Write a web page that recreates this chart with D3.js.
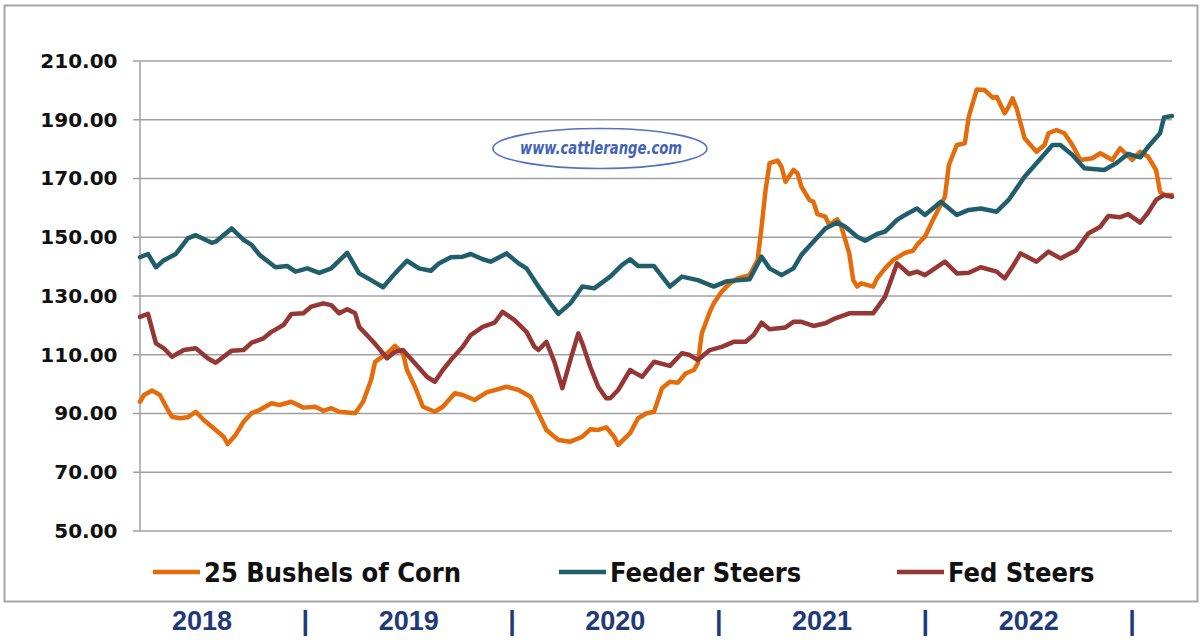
<!DOCTYPE html>
<html>
<head>
<meta charset="utf-8">
<script src="https://cdn.jsdelivr.net/npm/d3@7"></script>
<style>
    body { margin: 0; background: #fff; }
    svg { display: block; }
</style>
</head>
<body>
<div id="main"></div>
<script>
// weekly readings, week 0 = first week of 2018
const corn = [
    [0, 94.0], [1, 96.3], [3, 97.8], [5, 96.3], [7, 91.2], [8, 88.9], [10, 88.4], [12, 88.7], [14, 90.6], [16, 87.8],
    [19, 84.4], [21, 82.1], [22, 79.6], [24, 82.7], [26, 87.2], [28, 90.1], [30, 91.2], [33, 93.5], [35, 92.9], [38, 94.0],
    [41, 92.0], [44, 92.3], [46, 90.9], [48, 91.8], [50, 90.6], [54, 90.1], [56, 94.0], [58, 101.4], [59, 107.6], [62, 110.5],
    [64, 113.0], [66, 110.5], [67, 104.8], [69, 99.1], [71, 92.3], [74, 90.6], [76, 92.3], [79, 96.9], [81, 96.3], [84, 94.6],
    [87, 97.2], [92, 99.1], [95, 98.0], [98, 95.7], [100, 90.1], [102, 84.4], [105, 81.0], [108, 80.4], [111, 82.1], [113, 84.6],
    [115, 84.4], [117, 85.3], [119, 82.1], [120, 79.3], [123, 83.3], [125, 88.4], [127, 90.0], [129, 90.6], [131, 98.6], [133, 100.8],
    [135, 100.5], [137, 103.7], [139, 104.8], [140, 107.1], [141, 117.3], [143, 124.6], [144, 127.5], [146, 131.5], [148, 134.3], [150, 136.0],
    [153, 137.1], [155, 142.2], [156, 153.6], [157, 166.1], [158, 175.2], [160, 176.1], [161, 174.0], [162, 168.9], [164, 172.9], [165, 171.8],
    [166, 167.2], [168, 162.7], [169, 162.1], [170, 157.9], [172, 157.0], [173, 154.2], [175, 156.1], [176, 153.6], [178, 144.5], [179, 135.4],
    [180, 133.2], [181, 134.3], [184, 133.2], [185, 136.0], [187, 139.4], [189, 142.2], [192, 144.7], [194, 145.4], [195, 147.4], [197, 150.2],
    [199, 155.9], [202, 163.8], [203, 174.6], [205, 181.4], [207, 182.0], [208, 191.1], [210, 200.3], [212, 200.1], [214, 197.5], [215, 197.8],
    [217, 192.2], [218, 194.4], [219, 197.3], [220, 193.9], [222, 183.7], [225, 179.1], [227, 181.4], [228, 185.4], [230, 186.5], [232, 185.4],
    [234, 181.4], [236, 176.3], [239, 176.9], [241, 178.6], [244, 176.3], [246, 180.3], [249, 176.3], [251, 179.1], [253, 177.4], [255, 172.9],
    [256, 165.5], [257, 164.4], [259, 164.4]
];

const feeder = [
    [0, 143.2], [2, 144.3], [4, 139.8], [6, 142.2], [9, 144.3], [12, 149.6], [14, 150.7], [18, 148.1], [19, 148.5], [23, 153.0],
    [26, 149.1], [28, 147.4], [30, 144.0], [34, 139.8], [37, 140.2], [39, 138.3], [42, 139.4], [45, 137.9], [48, 139.4], [52, 144.7],
    [55, 137.7], [58, 135.4], [61, 133.0], [64, 137.7], [67, 142.0], [70, 139.4], [73, 138.6], [75, 141.1], [78, 143.2], [81, 143.4],
    [83, 144.3], [86, 142.5], [88, 141.7], [92, 144.5], [95, 141.1], [97, 139.4], [100, 133.2], [103, 127.5], [105, 123.9], [108, 127.5],
    [111, 133.2], [114, 132.6], [118, 136.6], [121, 140.6], [123, 142.5], [125, 140.2], [129, 140.2], [133, 133.2], [136, 136.6], [140, 135.4],
    [144, 133.2], [147, 134.9], [150, 135.4], [153, 135.7], [156, 143.4], [158, 139.4], [161, 137.1], [164, 139.4], [166, 144.0], [169, 148.5],
    [172, 153.0], [175, 155.0], [177, 153.6], [180, 150.2], [182, 148.8], [185, 151.1], [187, 151.9], [190, 155.9], [192, 157.6], [195, 159.8],
    [197, 157.6], [201, 162.1], [205, 157.6], [208, 159.3], [211, 159.8], [215, 158.7], [218, 162.7], [222, 170.6], [225, 175.2], [229, 181.4],
    [231, 181.4], [234, 178.0], [237, 173.5], [242, 172.9], [245, 175.2], [248, 178.4], [251, 177.2], [253, 180.8], [256, 185.4], [257, 190.8],
    [259, 191.3]
];

const fed = [
    [0, 122.9], [2, 123.9], [4, 113.9], [6, 112.2], [8, 109.3], [11, 111.6], [14, 112.2], [17, 108.8], [19, 107.3], [23, 111.4],
    [26, 111.6], [28, 114.1], [31, 115.6], [33, 117.8], [36, 120.1], [38, 123.9], [41, 124.1], [43, 126.4], [46, 127.5], [48, 126.9],
    [50, 124.1], [52, 125.5], [54, 124.1], [55, 119.5], [58, 115.2], [59, 113.7], [62, 108.8], [64, 111.0], [66, 111.6], [69, 107.1],
    [72, 102.5], [74, 100.8], [76, 104.8], [78, 108.2], [81, 112.7], [83, 116.7], [86, 119.5], [89, 120.9], [91, 124.6], [94, 121.8],
    [97, 117.8], [99, 112.7], [100, 111.6], [102, 114.4], [104, 107.6], [106, 98.6], [108, 108.2], [110, 117.3], [111, 113.9], [113, 105.9],
    [115, 99.1], [117, 95.2], [118, 95.2], [120, 98.0], [123, 104.8], [124, 104.0], [126, 102.5], [129, 107.6], [133, 106.2], [136, 110.5],
    [138, 109.9], [140, 108.2], [143, 111.6], [146, 112.7], [149, 114.4], [152, 114.4], [154, 116.7], [156, 120.9], [158, 118.7], [162, 119.3],
    [164, 121.2], [166, 121.2], [169, 119.8], [172, 120.7], [174, 122.1], [178, 124.1], [181, 124.1], [184, 124.1], [187, 129.8], [190, 141.1],
    [193, 137.5], [195, 138.3], [197, 137.1], [202, 141.7], [205, 137.7], [208, 137.9], [211, 139.8], [215, 138.3], [217, 136.0], [219, 140.0],
    [221, 144.5], [225, 141.7], [228, 145.1], [231, 142.8], [235, 145.6], [238, 151.3], [241, 153.6], [243, 157.2], [246, 156.8], [248, 157.9],
    [251, 155.0], [253, 158.4], [255, 162.7], [257, 164.4], [259, 163.8]
];

const seriesNames = ["25 Bushels of Corn", "Feeder Steers", "Fed Steers"];
const seriesColors = ["#e46c0a", "#215e6c", "#953735"];
const yTicks = [50, 70, 90, 110, 130, 150, 170, 190, 210];
const yearLabels = ["2018", "|", "2019", "|", "2020", "|", "2021", "|", "2022", "|"];

const svg = d3.select("#main").append("svg").attr("width", 1204).attr("height", 642);

// outer frame
svg.append("rect")
    .attr("x", 4.5).attr("y", 5.5)
    .attr("width", 1193).attr("height", 596)
    .attr("fill", "#fff")
    .attr("stroke", "#a6a6a6")
    .attr("stroke-width", 2);

let xScale = d3.scaleLinear().domain([0, 259]).range([140, 1172]);
let yScale = d3.scaleLinear().domain([50, 210]).range([531, 61]);

// gridlines
svg.append("g")
    .selectAll("line")
    .data(yTicks)
    .enter()
    .append("line")
    .attr("x1", 133).attr("x2", 1172)
    .attr("y1", (d) => yScale(d)).attr("y2", (d) => yScale(d))
    .attr("stroke", "#a0a0a0")
    .attr("stroke-width", 1.5);

// y axis
let axisLeft = d3.axisLeft(yScale).tickValues(yTicks).tickFormat(d3.format(".2f")).tickSize(0).tickPadding(22);
let yAxis = svg.append("g").attr("transform", "translate(139.5, 0)").call(axisLeft);
yAxis.select(".domain").attr("stroke", "#a0a0a0").attr("stroke-width", 1.5);
yAxis.selectAll("text")
    .style("font-family", "'DejaVu Sans', Verdana, sans-serif")
    .style("font-weight", "bold")
    .style("font-size", "20px")
    .attr("fill", "#111");

// watermark
let mark = svg.append("g");
mark.append("ellipse")
    .attr("cx", 600).attr("cy", 148.5)
    .attr("rx", 107).attr("ry", 20)
    .attr("fill", "#fff")
    .attr("stroke", "#5472c4")
    .attr("stroke-width", 1.6);
mark.append("text")
    .attr("x", 601).attr("y", 154)
    .attr("text-anchor", "middle")
    .attr("textLength", 162)
    .attr("lengthAdjust", "spacingAndGlyphs")
    .style("font-family", "'DejaVu Sans Condensed', sans-serif")
    .style("font-weight", "bold")
    .style("font-style", "italic")
    .style("font-size", "17px")
    .attr("fill", "#4262b8")
    .text("www.cattlerange.com");

// lines
let line = d3.line().x((d) => xScale(d[0])).y((d) => yScale(d[1]));
[corn, feeder, fed].forEach((data, i) => {
    svg.append("path")
        .datum(data)
        .attr("fill", "none")
        .attr("stroke", seriesColors[i])
        .attr("stroke-width", 4.5)
        .attr("stroke-linejoin", "round")
        .attr("stroke-linecap", "round")
        .attr("d", line);
});

// legend
const legendX = [153, 559, 897];
let legend = svg.selectAll(".legend").data(seriesNames).enter().append("g").classed("legend", true)
    .attr("transform", (d, i) => `translate(${legendX[i]}, 572)`);
legend.append("line")
    .attr("x1", 0).attr("x2", 47)
    .attr("stroke", (d, i) => seriesColors[i])
    .attr("stroke-width", 4.5);
legend.append("text")
    .attr("x", 51).attr("y", 10)
    .style("font-family", "'DejaVu Sans Condensed', Tahoma, sans-serif")
    .style("font-weight", "bold")
    .style("font-size", "27px")
    .attr("fill", "#111")
    .text((d) => d);

// year labels along the bottom
let yearScale = d3.scalePoint().domain(d3.range(yearLabels.length)).range([202, 1132]);
svg.append("g")
    .selectAll("text")
    .data(yearLabels)
    .enter()
    .append("text")
    .attr("x", (d, i) => yearScale(i))
    .attr("y", 630)
    .attr("text-anchor", "middle")
    .style("font-family", "'Liberation Sans', Arial, sans-serif")
    .style("font-weight", "bold")
    .style("font-size", "27px")
    .attr("fill", "#1f3a7a")
    .text((d) => d);
</script>
</body>
</html>
